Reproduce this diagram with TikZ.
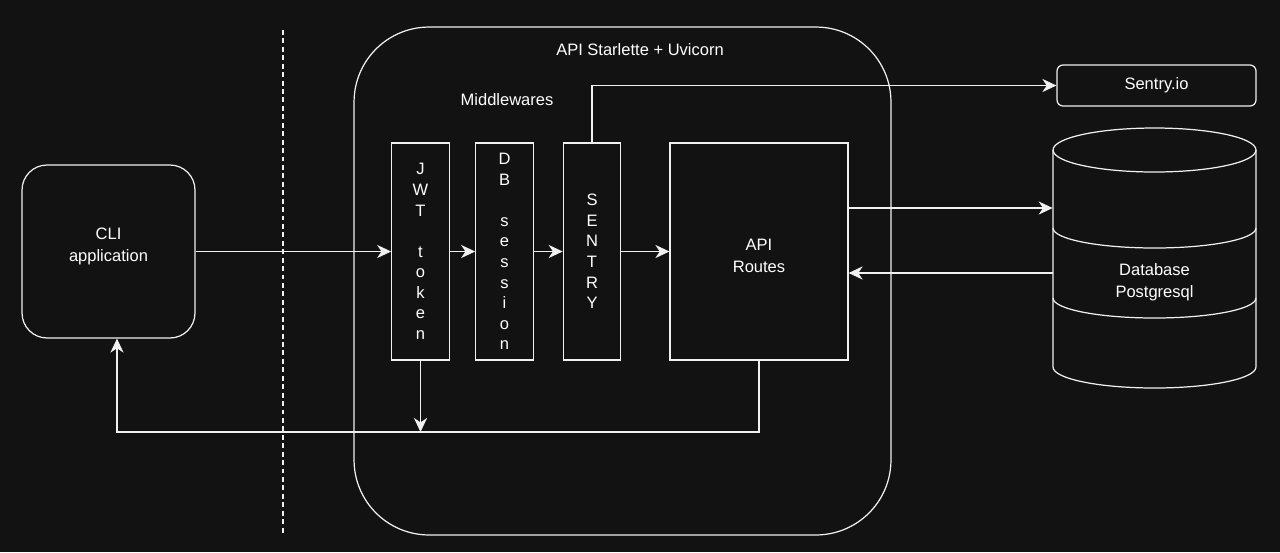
\documentclass[tikz,border=0pt]{standalone}
\usepackage{fontspec}
\setmainfont{Liberation Sans}
\usepackage{tikz}
\usetikzlibrary{shapes,arrows,arrows.meta}
\definecolor{bg}{HTML}{121212}
\definecolor{fg}{HTML}{F0F0F0}

\begin{document}
\begin{tikzpicture}[
    x=0.02cm, y=-0.02cm,
    every node/.style={text=white, font=\fontsize{9.4}{12.5}\selectfont},
    block/.style={draw=fg, line width=0.7pt, rectangle, align=center},
    middleware/.style={block, minimum width=1.15cm, minimum height=4.34cm, inner sep=0pt, font=\fontsize{9.4}{11.7}\selectfont},
    arrow/.style={draw=fg, line width=0.7pt, -{Stealth[length=8pt, width=7.5pt, inset=2.5pt]}},
    line/.style={draw=fg, line width=0.7pt}
]

% Background
\fill[bg] (0,0) rectangle (1280,552);

% Client side
\node[block, rounded corners=0.5cm, minimum width=3.46cm, minimum height=3.46cm] (cli) at (108.5,251.5) {};
\node[align=center] (clitext) at (108.5,246) {CLI\\application};
\draw[line, dash pattern=on 2.8pt off 2pt] (283,30) -- (283,535);

% API container
\node[block, rounded corners=1.5cm, minimum width=10.74cm, minimum height=10.16cm] (api) at (622.5,281) {};
\node (apititle) at (640,50) {API Starlette + Uvicorn};
\node (mwtitle) at (507,100) {Middlewares};

% Middlewares
\node[middleware] (jwt) at (420.5,251.5) {J\\W\\T\\\mbox{}\\t\\o\\k\\e\\n};
\node[middleware] (dbsession) at (504.5,251.5) {D\\B\\\mbox{}\\s\\e\\s\\s\\i\\o\\n};
\node[middleware] (sentry) at (592,251.5) {S\\E\\N\\T\\R\\Y};
\node[block, minimum width=3.56cm, minimum height=4.34cm] (routes) at (759,251.5) {};
\node[align=center] (routestext) at (759,255.5) {API\\Routes};

% External services
\node[block, rounded corners=0.12cm, minimum width=3.98cm, minimum height=0.82cm] (sentryio) at (1156.5,85.5) {Sentry.io};
\node[minimum width=4.06cm, minimum height=5.24cm, align=center] (db) at (1154.5,259) {};
\draw[line] (1053,150) -- (1053,367) arc[start angle=180, end angle=360, x radius=2.03cm, y radius=0.42cm] -- (1256,150);
\draw[line] (1154.5,150) ellipse[x radius=2.03cm, y radius=0.44cm];
\draw[line] (1053,228) arc[start angle=180, end angle=360, x radius=2.03cm, y radius=0.4cm];
\draw[line] (1053,298) arc[start angle=180, end angle=360, x radius=2.03cm, y radius=0.4cm];
\node[align=center] (dbtext) at (1154.5,282) {Database\\Postgresql};

% Connections
\coordinate (back) at (117,432);
\draw[arrow] (cli) -- (jwt);
\draw[arrow] (jwt) -- (dbsession);
\draw[arrow] (dbsession) -- (sentry);
\draw[arrow] (sentry) -- (routes);
\draw[arrow] (sentry.north) |- (sentryio.west);
\draw[arrow] ([yshift=0.87cm]routes.east) -- ([yshift=0.87cm]routes.east -| db.west);
\draw[arrow] ([yshift=-0.43cm]routes.east -| db.west) -- ([yshift=-0.43cm]routes.east);
\draw[arrow] (routes.south) |- (back) -- (back |- cli.south);
\draw[arrow] (jwt.south) -- (jwt.south |- back);

\end{tikzpicture}
\end{document}
